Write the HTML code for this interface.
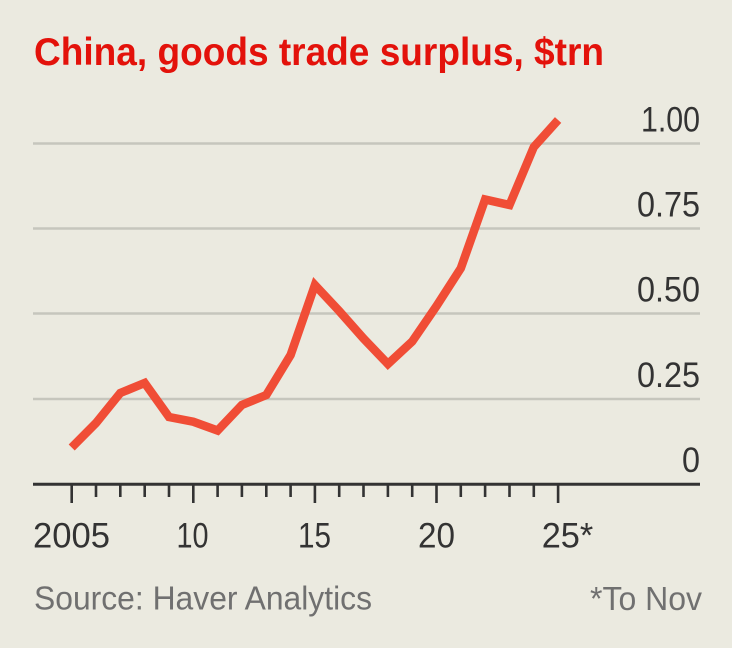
<!DOCTYPE html>
<html>
<head>
<meta charset="utf-8">
<style>
  html, body { margin: 0; padding: 0; background: #EBEAE0; }
  body { width: 732px; height: 648px; overflow: hidden; }
  svg { display: block; }
  text { font-family: "Liberation Sans", sans-serif; }
</style>
</head>
<body>
<svg width="732" height="648" viewBox="0 0 732 648" xmlns="http://www.w3.org/2000/svg">
  <rect x="0" y="0" width="732" height="648" fill="#EBEAE0"/>

  <!-- Title -->
  <text x="34" y="65" font-size="39" font-weight="bold" fill="#E3120B" textLength="570" lengthAdjust="spacingAndGlyphs">China, goods trade surplus, $trn</text>

  <!-- Gridlines -->
  <g stroke="#C6C6BD" stroke-width="2.5">
    <line x1="33" y1="143.5" x2="700" y2="143.5"/>
    <line x1="33" y1="228.5" x2="700" y2="228.5"/>
    <line x1="33" y1="313.5" x2="700" y2="313.5"/>
    <line x1="33" y1="399" x2="700" y2="399"/>
  </g>

  <!-- Y labels -->
  <g font-size="35" fill="#333333" text-anchor="end">
    <text x="700" y="131.5" textLength="59" lengthAdjust="spacingAndGlyphs">1.00</text>
    <text x="700" y="216.5" textLength="63" lengthAdjust="spacingAndGlyphs">0.75</text>
    <text x="700" y="301.5" textLength="63" lengthAdjust="spacingAndGlyphs">0.50</text>
    <text x="700" y="387" textLength="63" lengthAdjust="spacingAndGlyphs">0.25</text>
    <text x="700" y="472" textLength="18" lengthAdjust="spacingAndGlyphs">0</text>
  </g>

  <!-- Axis -->
  <line x1="33" y1="484.3" x2="700" y2="484.3" stroke="#333333" stroke-width="3"/>
  <g stroke="#333333" stroke-width="2.6">
    <line x1="71.7" y1="484" x2="71.7" y2="503"/>
    <line x1="96.0" y1="484" x2="96.0" y2="497"/>
    <line x1="120.3" y1="484" x2="120.3" y2="497"/>
    <line x1="144.7" y1="484" x2="144.7" y2="497"/>
    <line x1="169.0" y1="484" x2="169.0" y2="497"/>
    <line x1="193.3" y1="484" x2="193.3" y2="503"/>
    <line x1="217.6" y1="484" x2="217.6" y2="497"/>
    <line x1="241.9" y1="484" x2="241.9" y2="497"/>
    <line x1="266.3" y1="484" x2="266.3" y2="497"/>
    <line x1="290.6" y1="484" x2="290.6" y2="497"/>
    <line x1="314.9" y1="484" x2="314.9" y2="503"/>
    <line x1="339.2" y1="484" x2="339.2" y2="497"/>
    <line x1="363.5" y1="484" x2="363.5" y2="497"/>
    <line x1="387.9" y1="484" x2="387.9" y2="497"/>
    <line x1="412.2" y1="484" x2="412.2" y2="497"/>
    <line x1="436.5" y1="484" x2="436.5" y2="503"/>
    <line x1="460.8" y1="484" x2="460.8" y2="497"/>
    <line x1="485.1" y1="484" x2="485.1" y2="497"/>
    <line x1="509.5" y1="484" x2="509.5" y2="497"/>
    <line x1="533.8" y1="484" x2="533.8" y2="497"/>
    <line x1="558.1" y1="484" x2="558.1" y2="503"/>
  </g>

  <!-- X labels -->
  <g font-size="35" fill="#333333">
    <text x="71.5" y="547.5" text-anchor="middle" textLength="77" lengthAdjust="spacingAndGlyphs">2005</text>
    <text x="192.5" y="547.5" text-anchor="middle" textLength="32" lengthAdjust="spacingAndGlyphs">10</text>
    <text x="314.5" y="547.5" text-anchor="middle" textLength="33" lengthAdjust="spacingAndGlyphs">15</text>
    <text x="436.5" y="547.5" text-anchor="middle" textLength="37" lengthAdjust="spacingAndGlyphs">20</text>
    <text x="541.7" y="547.5" textLength="51.6" lengthAdjust="spacingAndGlyphs">25*</text>
  </g>

  <!-- Data line -->
  <polyline fill="none" stroke="#F04D36" stroke-width="8.5" stroke-linejoin="miter" stroke-miterlimit="3" stroke-linecap="butt"
    points="71.7,447.5 96.0,423 120.3,393 144.7,383 169.0,417 193.3,421.7 217.6,430.5 241.9,405 266.3,395 290.6,355 314.9,285 339.2,311 363.5,338.5 387.9,364 412.2,341.5 436.5,306 460.8,268.3 485.1,199.5 509.5,205 533.8,147 558.1,120"/>

  <!-- Footer -->
  <text x="34" y="609.5" font-size="33.5" fill="#707070" textLength="338" lengthAdjust="spacingAndGlyphs">Source: Haver Analytics</text>
  <text x="702" y="610" font-size="33.5" fill="#707070" text-anchor="end" textLength="112" lengthAdjust="spacingAndGlyphs">*To Nov</text>
</svg>
</body>
</html>
